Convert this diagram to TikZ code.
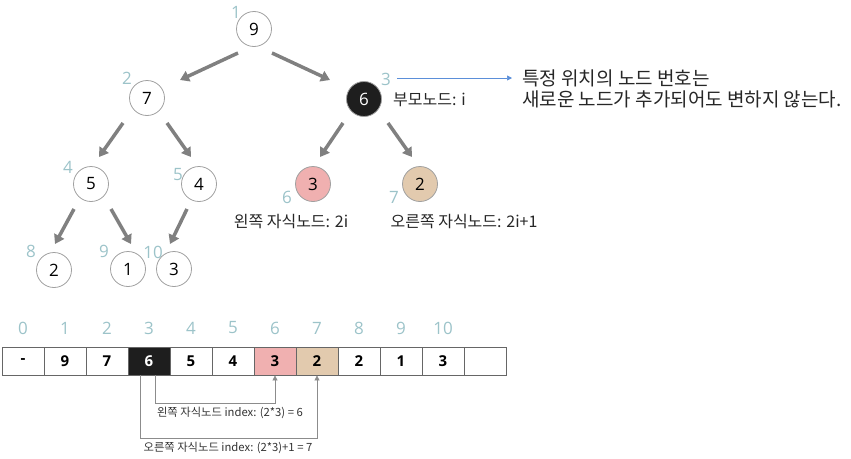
\documentclass[tikz,border=0pt]{standalone}
\usepackage{fontspec}
\setmainfont{Open Sans}
\newfontfamily\kr{Noto Sans CJK KR}
\usetikzlibrary{arrows.meta,calc}
\definecolor{idx}{HTML}{9CC3C9}
\definecolor{pinkc}{HTML}{F0B0B0}
\definecolor{tanc}{HTML}{E2CAAE}
\definecolor{darkc}{HTML}{1E1E1E}
\definecolor{edgec}{HTML}{808080}
\definecolor{bordc}{HTML}{A0A0A0}
\definecolor{notec}{HTML}{5B8FD9}
\begin{document}
\begin{tikzpicture}[x=1pt,y=-1pt,
  tnode/.style={circle,draw=bordc,line width=0.8pt,minimum size=35pt,inner sep=0pt,font=\fontsize{17}{17}\selectfont},
  ilab/.style={text=idx,inner sep=0pt,font=\fontsize{17}{17}\selectfont},
  tedge/.style={draw=edgec,line width=3.5pt,-{Triangle[length=9pt,width=11pt]}},
  krlab/.style={inner sep=0pt,font=\kr\fontsize{16}{16}\selectfont,text=black!85},
  cell/.style={draw=black!60,line width=0.8pt,minimum width=42pt,minimum height=28pt,inner sep=0pt,font=\bfseries\fontsize{15}{15}\selectfont},
  small/.style={inner sep=0pt,font=\kr\fontsize{11.3}{11.3}\selectfont,text=black!80},
  bracket/.style={draw=black!45,line width=0.7pt,-{Triangle[length=5pt,width=5pt]}}
]
\useasboundingbox (0,0) rectangle (851,458);
% tree nodes
\node[tnode] (n9) at (254,29) {9};
\node[tnode] (n7) at (147,98) {7};
\node[tnode,fill=darkc,text=white] (n6) at (364,99) {6};
\node[tnode] (n5) at (91,184) {5};
\node[tnode] (n4) at (199,184) {4};
\node[tnode,fill=pinkc] (n3) at (313,184) {3};
\node[tnode,fill=tanc] (n2r) at (420,184) {2};
\node[tnode] (l2) at (54,270) {2};
\node[tnode] (l1) at (128,269) {1};
\node[tnode] (l3) at (174,269) {3};
% index labels
\node[ilab] (i1) at (236,12) {1};
\node[ilab] (i2) at (127,78) {2};
\node[ilab] (i3) at (386,79) {3};
\node[ilab] (i4) at (68,167) {4};
\node[ilab] (i5) at (178,175) {5};
\node[ilab] (i6) at (287,197) {6};
\node[ilab] (i7) at (394,197) {7};
\node[ilab] (i8) at (31,251) {8};
\node[ilab] (i9) at (104,251) {9};
\node[ilab] (i10) at (153,252) {10};
% edges
\draw[tedge] ($(n9)+(-16,24)$) -- ($(n7)+(33,-18)$);
\draw[tedge] ($(n9)+(18,24)$) -- ($(n6)+(-34,-19)$);
\draw[tedge] ($(n7)+(-24,25)$) -- ($(n5)+(8,-27)$);
\draw[tedge] ($(n7)+(20,25)$) -- ($(n4)+(-8,-27)$);
\draw[tedge] ($(n6)+(-21,24)$) -- ($(n3)+(7,-27)$);
\draw[tedge] ($(n6)+(24,24)$) -- ($(n2r)+(-8,-27)$);
\draw[tedge] ($(n5)+(-17,25)$) -- ($(l2)+(1,-26)$);
\draw[tedge] ($(n5)+(20,25)$) -- ($(l1)+(3,-25)$);
\draw[tedge] ($(n4)+(-12,25)$) -- ($(l3)+(-4,-25)$);
% labels
\node[krlab,anchor=west] (parent) at (393,100) {부모노드: i};
\node[krlab] (lchild) at (291,222) {왼쪽 자식노드: 2i};
\node[krlab] (rchild) at (464,222) {오른쪽 자식노드: 2i+1};
\node[inner sep=0pt,anchor=north west,align=left,font=\kr\fontsize{19}{20.5}\selectfont,text=black!85] (note) at (522,70) {특정 위치의 노드 번호는\\새로운 노드가 추가되어도 변하지 않는다.};
\coordinate (noteL) at (512,78);
\draw[draw=notec,line width=0.7pt,-{Triangle[length=5pt,width=5pt]}] ($(i3.east)+(6,-1)$) -- (noteL);
% array
\foreach \k in {0,...,10} {
  \node[ilab] at (23+42*\k,328) {\k};
}
\node[cell] (c0) at (23,361) {-};
\node[cell] (c1) at (65,361) {9};
\node[cell] (c2) at (107,361) {7};
\node[cell,fill=darkc,text=white] (c3) at (149,361) {6};
\node[cell] (c4) at (191,361) {5};
\node[cell] (c5) at (233,361) {4};
\node[cell,fill=pinkc] (c6) at (275,361) {3};
\node[cell,fill=tanc] (c7) at (317,361) {2};
\node[cell] (c8) at (359,361) {2};
\node[cell] (c9) at (401,361) {1};
\node[cell] (c10) at (443,361) {3};
\node[cell] (c11) at (485,361) {};
% brackets
\draw[bracket] ($(c3.south)+(6,0)$) -- ++(0,28) -| (c6.south);
\draw[bracket] ($(c3.south)+(-9,0)$) -- ++(0,63) -| (c7.south);
\node[small] (lb1) at (230,413) {왼쪽 자식노드 index: (2*3) = 6};
\node[small] (lb2) at (228,448) {오른쪽 자식노드 index: (2*3)+1 = 7};
\end{tikzpicture}
\end{document}
